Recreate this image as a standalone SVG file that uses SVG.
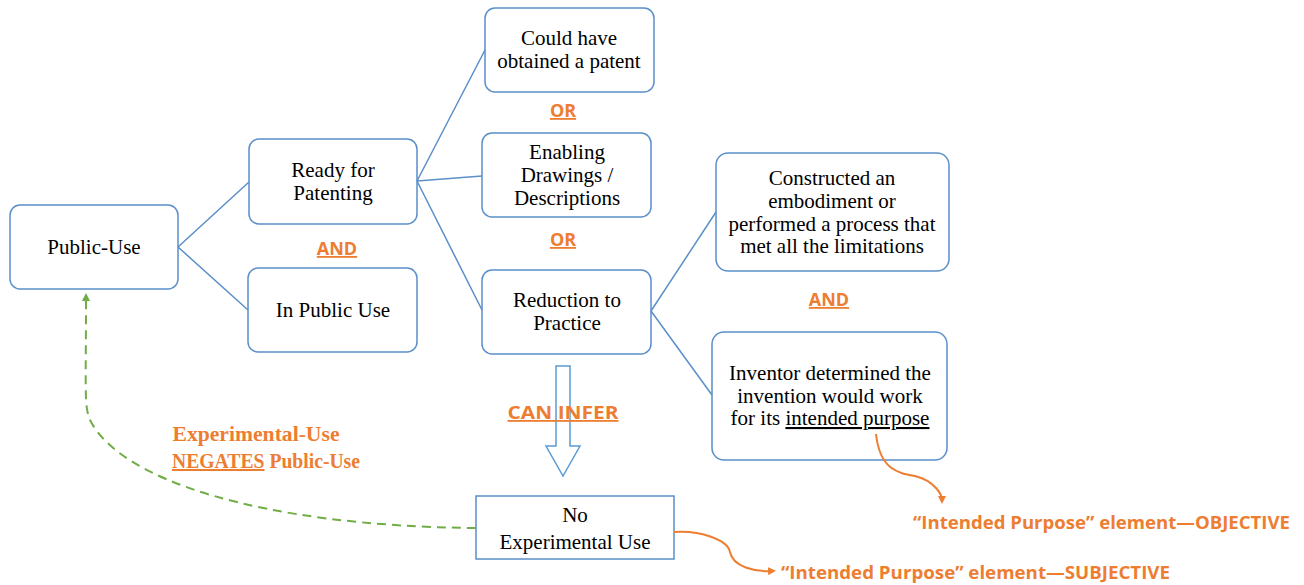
<svg xmlns="http://www.w3.org/2000/svg" width="1304" height="585" viewBox="0 0 1304 585">
<defs>
<style>
.box{fill:#fff;stroke:#5B8FC9;stroke-width:1.5}
.t{font-family:"Liberation Serif","Times New Roman",serif;font-size:21px;fill:#000;text-anchor:middle}
.lbl{font-family:"Open Sans","Liberation Sans",sans-serif;font-weight:bold;font-size:18px;fill:#ED7D31;text-anchor:middle;text-decoration:underline}
.note{font-family:"Open Sans","Liberation Sans",sans-serif;font-weight:bold;font-size:18px;fill:#ED7D31}
.neg{font-family:"Liberation Serif","Times New Roman",serif;font-weight:bold;font-size:20px;fill:#ED7D31;text-anchor:middle}
.ln{stroke:#5B8FC9;stroke-width:1.5;fill:none}
</style>
<marker id="ga" viewBox="0 0 10 10" refX="5" refY="5" markerWidth="4" markerHeight="4" orient="auto"><path d="M0,0 L10,5 L0,10 z" fill="#70AD47"/></marker>
<marker id="oa" viewBox="0 0 10 10" refX="5" refY="5" markerWidth="4" markerHeight="4" orient="auto"><path d="M0,0 L10,5 L0,10 z" fill="#ED7D31"/></marker>
</defs>
<rect width="1304" height="585" fill="#fff"/>
<g id="public-use"><rect class="box" x="10" y="205" width="168" height="84" rx="10"/><text class="t" x="94" y="254">Public-Use</text></g>
<g id="ready"><rect class="box" x="249" y="139" width="168" height="85" rx="10"/><text class="t" x="333" y="177">Ready for</text><text class="t" x="333" y="200">Patenting</text></g>
<g id="in-public-use"><rect class="box" x="248" y="268" width="169" height="84" rx="10"/><text class="t" x="333" y="317">In Public Use</text></g>
<g id="could"><rect class="box" x="485" y="8" width="169" height="84" rx="10"/><text class="t" x="569" y="45">Could have</text><text class="t" x="569" y="68">obtained a patent</text></g>
<g id="enabling"><rect class="box" x="482" y="133" width="169" height="84" rx="10"/><text class="t" x="567" y="159">Enabling</text><text class="t" x="567" y="182">Drawings /</text><text class="t" x="567" y="205">Descriptions</text></g>
<g id="reduction"><rect class="box" x="482" y="270" width="169" height="84" rx="10"/><text class="t" x="567" y="307">Reduction to</text><text class="t" x="567" y="330">Practice</text></g>
<g id="constructed"><rect class="box" x="716" y="153" width="233" height="118" rx="12"/><text class="t" x="832" y="185">Constructed an</text><text class="t" x="832" y="208">embodiment or</text><text class="t" x="832" y="231">performed a process that</text><text class="t" x="832" y="253">met all the limitations</text></g>
<g id="inventor"><rect class="box" x="712" y="332" width="235" height="128" rx="12"/><text class="t" x="830" y="380">Inventor determined the</text><text class="t" x="830" y="403">invention would work</text><text class="t" x="830" y="425">for its <tspan text-decoration="underline">intended purpose</tspan></text></g>
<g id="no-exp"><rect class="box" x="476" y="496" width="198" height="63" rx="0"/><text class="t" x="575" y="522">No</text><text class="t" x="575" y="549">Experimental Use</text></g>
<g id="connectors">
<path class="ln" d="M178,247 L249,182 M178,247 L248,310"/>
<path class="ln" d="M417,181 L485,50 M417,181 L482,176 M417,181 L482,310"/>
<path class="ln" d="M651,311 L716,212 M651,311 L712,395"/>
<path d="M476,528 C260,526 120,480 90,420 C84,405 86,395 86,297" fill="none" stroke="#70AD47" stroke-width="2" stroke-dasharray="9,6" marker-end="url(#ga)"/>
<path d="M876,434 C880,470 898,473 915,476 C935,481 942,495 942,500" fill="none" stroke="#ED7D31" stroke-width="2" marker-end="url(#oa)"/>
<path d="M674,532 C700,530 728,540 730,552 C733,567 755,572 772,571" fill="none" stroke="#ED7D31" stroke-width="2" marker-end="url(#oa)"/>
<polygon points="556,366 570,366 570,446 580,446 563,476 546,446 556,446" fill="#fff" stroke="#5B9BD5" stroke-width="1.5"/>
</g>
<g id="labels">
<text class="lbl" x="337" y="255">AND</text>
<text class="lbl" x="563" y="117">OR</text>
<text class="lbl" x="563" y="246">OR</text>
<text class="lbl" x="829" y="306">AND</text>
<text class="lbl" x="563" y="419" font-size="19" textLength="111" lengthAdjust="spacingAndGlyphs">CAN INFER</text>
<text class="neg" x="256" y="441" textLength="167" lengthAdjust="spacingAndGlyphs">Experimental-Use</text>
<text class="neg" x="266" y="468" textLength="188" lengthAdjust="spacingAndGlyphs"><tspan text-decoration="underline">NEGATES</tspan> Public-Use</text>
<text class="note" x="913" y="529" textLength="377" lengthAdjust="spacingAndGlyphs">“Intended Purpose” element—OBJECTIVE</text>
<text class="note" x="781" y="579" textLength="389" lengthAdjust="spacingAndGlyphs">“Intended Purpose” element—SUBJECTIVE</text>
</g>
</svg>
